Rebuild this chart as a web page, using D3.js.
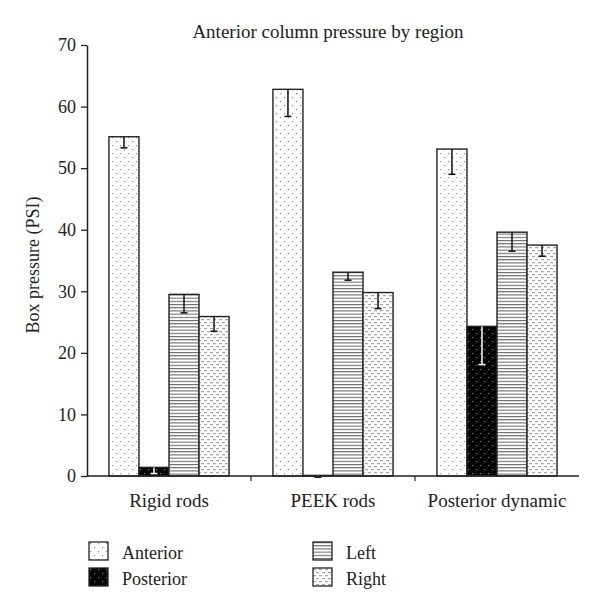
<!DOCTYPE html>
<html>
<head>
<meta charset="utf-8">
<script src="https://cdn.jsdelivr.net/npm/d3@7"></script>
<style>
  html, body { margin: 0; padding: 0; background: #fff; }
  svg { display: block; }
  text { font-family: "Liberation Serif", "DejaVu Serif", serif; fill: #222; }
</style>
</head>
<body>
<svg id="chart" width="600" height="614"></svg>
<script>
// ---- data ----
const categories = ["Rigid rods", "PEEK rods", "Posterior dynamic"];
const seriesNames = ["Anterior", "Posterior", "Left", "Right"];
const anteriorValues  = [55.1, 62.8, 53.1];
const anteriorErrors  = [1.8, 4.4, 4.1];
const posteriorValues = [1.4, 0.1, 24.3];
const posteriorErrors = [1.0, 0.3, 6.2];
const leftValues      = [29.5, 33.1, 39.6];
const leftErrors      = [3.0, 1.3, 3.1];
const rightValues     = [25.9, 29.8, 37.5];
const rightErrors     = [2.4, 2.6, 1.8];
const yTicks = [0, 10, 20, 30, 40, 50, 60, 70];

const seriesValues = [anteriorValues, posteriorValues, leftValues, rightValues];
const seriesErrors = [anteriorErrors, posteriorErrors, leftErrors, rightErrors];

const svg = d3.select("#chart");
const W = 600, H = 614;
const margin = { left: 87, right: 21, top: 45, bottom: 138 };

// ---- patterns ----
const defs = svg.append("defs");
const pA = defs.append("pattern").attr("id", "pat-anterior").attr("patternUnits", "userSpaceOnUse")
  .attr("width", 8).attr("height", 8);
pA.append("rect").attr("width", 8).attr("height", 8).attr("fill", "#fff");
pA.append("rect").attr("x", 1).attr("y", 1).attr("width", 1.2).attr("height", 1.2).attr("fill", "#8a8a8a");
pA.append("rect").attr("x", 5).attr("y", 5).attr("width", 1.2).attr("height", 1.2).attr("fill", "#8a8a8a");
const pP = defs.append("pattern").attr("id", "pat-posterior").attr("patternUnits", "userSpaceOnUse")
  .attr("width", 8).attr("height", 8);
pP.append("rect").attr("width", 8).attr("height", 8).attr("fill", "#050505");
pP.append("rect").attr("x", 1).attr("y", 1).attr("width", 1.2).attr("height", 1.2).attr("fill", "#777");
pP.append("rect").attr("x", 5).attr("y", 5).attr("width", 1.2).attr("height", 1.2).attr("fill", "#777");
const pL = defs.append("pattern").attr("id", "pat-left").attr("patternUnits", "userSpaceOnUse")
  .attr("width", 6).attr("height", 3.2);
pL.append("rect").attr("width", 6).attr("height", 3.2).attr("fill", "#fff");
pL.append("rect").attr("x", 0).attr("y", 0).attr("width", 6).attr("height", 1.1).attr("fill", "#6a6a6a");
const pR = defs.append("pattern").attr("id", "pat-right").attr("patternUnits", "userSpaceOnUse")
  .attr("width", 6).attr("height", 6);
pR.append("rect").attr("width", 6).attr("height", 6).attr("fill", "#fafafa");
pR.append("rect").attr("x", 0).attr("y", 1).attr("width", 3).attr("height", 1.2).attr("fill", "#a8a8a8");
pR.append("rect").attr("x", 3).attr("y", 4).attr("width", 3).attr("height", 1.2).attr("fill", "#a8a8a8");

const fills = ["url(#pat-anterior)", "url(#pat-posterior)", "url(#pat-left)", "url(#pat-right)"];
const errColors = ["#111", "#fff", "#111", "#111"];

// ---- scales ----
const x0 = d3.scaleBand().domain(categories).range([margin.left, W - margin.right]).paddingInner(0).paddingOuter(0);
const x1 = d3.scaleBand().domain(seriesNames).range([0, x0.bandwidth()]).paddingInner(0).paddingOuter(0.73);
const y = d3.scaleLinear().domain([0, 70]).range([H - margin.bottom, margin.top]);

// ---- title ----
svg.append("text").attr("x", 328).attr("y", 38).attr("text-anchor", "middle")
  .style("font-size", "19px").text("Anterior column pressure by region");

// ---- y axis ----
const yAxis = d3.axisLeft(y).tickValues(yTicks).tickSize(6).tickSizeOuter(0).tickPadding(5);
const gy = svg.append("g").attr("transform", `translate(${margin.left},0)`).call(yAxis);
gy.select(".domain").attr("stroke", "#222").attr("stroke-width", 1.5);
gy.selectAll(".tick line").attr("stroke", "#222").attr("stroke-width", 1.3);
gy.selectAll(".tick text").style("font-size", "18px").attr("fill", "#222")
  .style("font-family", '"Liberation Serif", serif');

svg.append("text").attr("transform", `translate(39,${265}) rotate(-90)`).attr("text-anchor", "middle")
  .style("font-size", "18px").text("Box pressure (PSI)");

// ---- bars ----
const groups = svg.append("g").selectAll("g").data(categories).join("g")
  .attr("transform", d => `translate(${x0(d)},0)`);

seriesNames.forEach((s, si) => {
  groups.append("rect")
    .attr("x", (d) => x1(s))
    .attr("y", (d, i) => y(seriesValues[si][i]))
    .attr("width", x1.bandwidth())
    .attr("height", (d, i) => y(0) - y(seriesValues[si][i]))
    .attr("fill", fills[si])
    .attr("stroke", "#222")
    .attr("stroke-width", 1.4);
});

seriesNames.forEach((s, si) => {
  const cx = x1(s) + x1.bandwidth() / 2;
  groups.append("line")
    .attr("x1", cx).attr("x2", cx)
    .attr("y1", (d, i) => y(seriesValues[si][i]))
    .attr("y2", (d, i) => y(seriesValues[si][i] - seriesErrors[si][i]))
    .attr("stroke", errColors[si]).attr("stroke-width", 1.5);
  groups.append("line")
    .attr("x1", cx - 3.5).attr("x2", cx + 3.5)
    .attr("y1", (d, i) => y(seriesValues[si][i] - seriesErrors[si][i]))
    .attr("y2", (d, i) => y(seriesValues[si][i] - seriesErrors[si][i]))
    .attr("stroke", si === 1 ? (d, i) => (i === 1 ? "#111" : "#fff") : errColors[si])
    .attr("stroke-width", 1.5);
});

// ---- x axis ----
const xAxisG = svg.append("g").attr("transform", `translate(0,${y(0)})`);
xAxisG.append("line").attr("x1", margin.left).attr("x2", W - margin.right)
  .attr("y1", 0).attr("y2", 0).attr("stroke", "#222").attr("stroke-width", 1.5);
xAxisG.selectAll("line.bt").data(categories.slice(1)).join("line").attr("class", "bt")
  .attr("x1", d => x0(d)).attr("x2", d => x0(d)).attr("y1", 0).attr("y2", 5)
  .attr("stroke", "#222").attr("stroke-width", 1.2);
xAxisG.selectAll("text").data(categories).join("text")
  .attr("x", d => x0(d) + x0.bandwidth() / 2).attr("y", 31)
  .attr("text-anchor", "middle").style("font-size", "19px").text(d => d);

// ---- legend ----
const legendPos = [[89, 542], [89, 568], [313, 542], [313, 568]];
const leg = svg.append("g").selectAll("g").data(seriesNames).join("g")
  .attr("transform", (d, i) => `translate(${legendPos[i][0]},${legendPos[i][1]})`);
leg.append("rect").attr("width", 19).attr("height", 18)
  .attr("fill", (d, i) => fills[i]).attr("stroke", "#222").attr("stroke-width", 1.3);
leg.append("text").attr("x", 33).attr("y", 17)
  .style("font-size", "18px").text(d => d);
</script>
</body>
</html>
